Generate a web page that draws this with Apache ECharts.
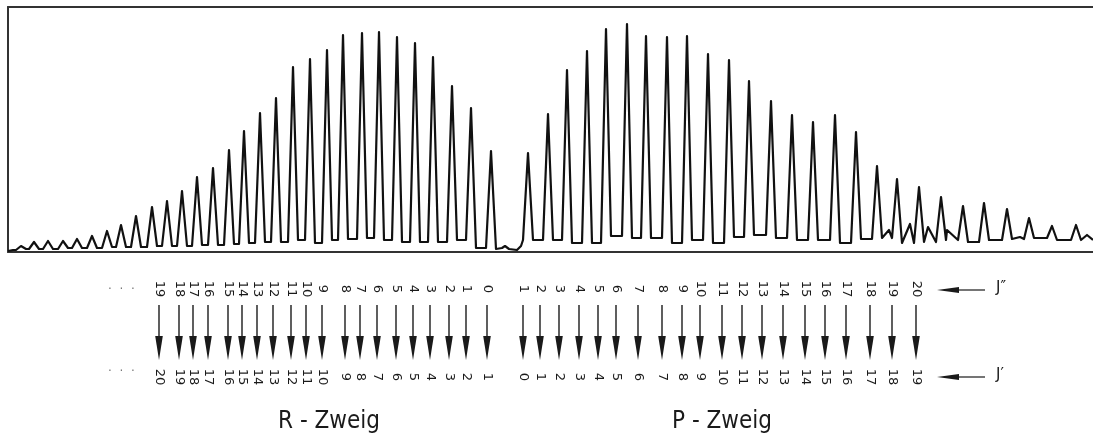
<!DOCTYPE html>
<html><head><meta charset="utf-8">
<script src="https://cdn.jsdelivr.net/npm/echarts/dist/echarts.min.js"></script>
<style>html,body{margin:0;padding:0;background:#fff}#c{width:1093px;height:441px}</style>
</head><body><div id="c"></div>
<script>
// ---- Spectrum (position along frequency axis, relative intensity) ----
const rPeakPos = [21,34,48,63,77,92,107,121,136,152,167,182,197,213,229,244,260,276,293,310,327,343,362,379,397,415,433,452,471,491];
const rPeakInt = [6,10,11,11,13,16,21,27,36,45,51,61,75,84,102,121,139,154,185,193,202,217,219,220,215,209,195,166,144,101];
const rTrough  = [3,3,3,4,4,4,5,5,5,6,6,6,7,7,8,9,10,10,12,9,12,13,14,12,10,10,10,12,4];
const gapTrace = [[498,3],[502,4],[505,6],[509,3],[517,2],[521,6],[524,14]];
const pPeakPos = [528,548,567,587,606,627,646,667,687,708,729,749,771,792,813,835,856,877,897,919,941,963,984,1007,1029,1052,1076];
const pPeakInt = [99,138,182,201,223,228,216,215,216,198,192,171,151,137,130,137,120,86,73,65,55,46,49,43,34,26,27];
const pTrough  = [12,12,9,9,16,14,14,9,12,9,15,17,14,12,12,9,13,14,9,10,12,10,12,13,14,12];
const pShoulders = [[889,22],[910,28],[928,25],[947,22],[1020,15],[1087,17]];
const edgeStart = [[8,1],[13,2]];
const edgeEnd = [[1093,12]];

// ---- Transitions (arrow positions, J'' upper and J' lower quantum numbers) ----
const rArrowPos = [159,179,193,208,228,242,257,273,291,306,322,345,360,377,396,413,430,449,466,487];
const rUpperJ   = [19,18,17,16,15,14,13,12,11,10,9,8,7,6,5,4,3,2,1,0];
const rLowerJ   = [20,19,18,17,16,15,14,13,12,11,10,9,8,7,6,5,4,3,2,1];
const pArrowPos = [523,540,559,579,598,616,638,662,682,700,722,742,762,783,805,825,846,870,892,916];
const pUpperJ   = [1,2,3,4,5,6,7,8,9,10,11,12,13,14,15,16,17,18,19,20];
const pLowerJ   = [0,1,2,3,4,5,6,7,8,9,10,11,12,13,14,15,16,17,18,19];

const PEAK_HALF_WIDTH = 5;
function branch(pos, ints, troughs, startLvl, endLvl, w) {
  const pts = [];
  for (let i = 0; i < pos.length; i++) {
    const l = i === 0 ? startLvl : troughs[i - 1];
    const r = i === pos.length - 1 ? endLvl : troughs[i];
    pts.push([pos[i] - w, l], [pos[i], ints[i]], [pos[i] + w, r]);
  }
  return pts;
}
const trace = [].concat(
  edgeStart,
  branch(rPeakPos, rPeakInt, rTrough, 2, 3, PEAK_HALF_WIDTH),
  gapTrace,
  branch(pPeakPos, pPeakInt, pTrough, 12, 12, PEAK_HALF_WIDTH),
  pShoulders,
  edgeEnd
).sort((a, b) => a[0] - b[0]);

const FONT = 'DejaVu Sans';
const INK = '#1a1a1a';
function transitionRender(params, api) {
  const x = api.coord([api.value(0), 0])[0];
  return {
    type: 'group',
    children: [
      { type: 'line', shape: { x1: x, y1: 305, x2: x, y2: 340 }, style: { stroke: INK, lineWidth: 1.4 } },
      { type: 'polygon', shape: { points: [[x - 3.8, 336], [x + 3.8, 336], [x, 360]] }, style: { fill: INK } },
      { type: 'text', x: x, y: 289, rotation: -Math.PI / 2,
        style: { text: String(api.value(1)), font: '13px ' + FONT, fill: INK, align: 'center', verticalAlign: 'middle' } },
      { type: 'text', x: x, y: 377, rotation: -Math.PI / 2,
        style: { text: String(api.value(2)), font: '13px ' + FONT, fill: INK, align: 'center', verticalAlign: 'middle' } }
    ]
  };
}

const frameLine = { show: true, lineStyle: { color: '#333', width: 2 } };
const chart = echarts.init(document.getElementById('c'), null, { renderer: 'canvas' });
chart.setOption({
  animation: false,
  backgroundColor: '#fff',
  grid: [
    { left: 8, right: 0, top: 7, bottom: 189 },
    { left: 8, right: 0, top: 270, height: 130 }
  ],
  xAxis: [
    { gridIndex: 0, type: 'value', min: 8, max: 1093, axisLine: frameLine, axisTick: { show: false }, axisLabel: { show: false }, splitLine: { show: false } },
    { gridIndex: 0, type: 'value', position: 'top', min: 8, max: 1093, axisLine: frameLine, axisTick: { show: false }, axisLabel: { show: false }, splitLine: { show: false } },
    { gridIndex: 1, type: 'value', min: 8, max: 1093, show: false }
  ],
  yAxis: [
    { gridIndex: 0, type: 'value', min: 0, max: 245, axisLine: frameLine, axisTick: { show: false }, axisLabel: { show: false }, splitLine: { show: false } },
    { gridIndex: 1, type: 'value', min: 0, max: 1, show: false }
  ],
  series: [
    { type: 'line', xAxisIndex: 0, yAxisIndex: 0, data: trace, symbol: 'none', smooth: false,
      lineStyle: { color: '#111', width: 2.2, join: 'round' } },
    { type: 'custom', name: 'R', xAxisIndex: 2, yAxisIndex: 1, renderItem: transitionRender,
      data: rArrowPos.map((p, i) => [p, rUpperJ[i], rLowerJ[i]]) },
    { type: 'custom', name: 'P', xAxisIndex: 2, yAxisIndex: 1, renderItem: transitionRender,
      data: pArrowPos.map((p, i) => [p, pUpperJ[i], pLowerJ[i]]) }
  ],
  graphic: [
    { type: 'text', left: 108, top: 284, style: { text: '·  ·  ·', font: '12px ' + FONT, fill: '#777' } },
    { type: 'text', left: 108, top: 366, style: { text: '·  ·  ·', font: '12px ' + FONT, fill: '#777' } },
    { type: 'line', shape: { x1: 955, y1: 290, x2: 985, y2: 290 }, style: { stroke: INK, lineWidth: 1.2 } },
    { type: 'polygon', shape: { points: [[937, 290], [959, 287], [959, 293]] }, style: { fill: INK } },
    { type: 'text', left: 996, top: 281, style: { text: 'J\u2033', font: '15px ' + FONT, fill: INK } },
    { type: 'line', shape: { x1: 955, y1: 377, x2: 985, y2: 377 }, style: { stroke: INK, lineWidth: 1.2 } },
    { type: 'polygon', shape: { points: [[937, 377], [959, 374], [959, 380]] }, style: { fill: INK } },
    { type: 'text', left: 996, top: 368, style: { text: 'J\u2032', font: '15px ' + FONT, fill: INK } },
    { type: 'text', x: 329, y: 422, style: { text: 'R - Zweig', font: '24px "DejaVu Sans Condensed", "Liberation Sans Narrow", "DejaVu Sans"', fill: INK, align: 'center', verticalAlign: 'middle' } },
    { type: 'text', x: 722, y: 422, style: { text: 'P - Zweig', font: '24px "DejaVu Sans Condensed", "Liberation Sans Narrow", "DejaVu Sans"', fill: INK, align: 'center', verticalAlign: 'middle' } }
  ]
});
</script>
</body></html>
